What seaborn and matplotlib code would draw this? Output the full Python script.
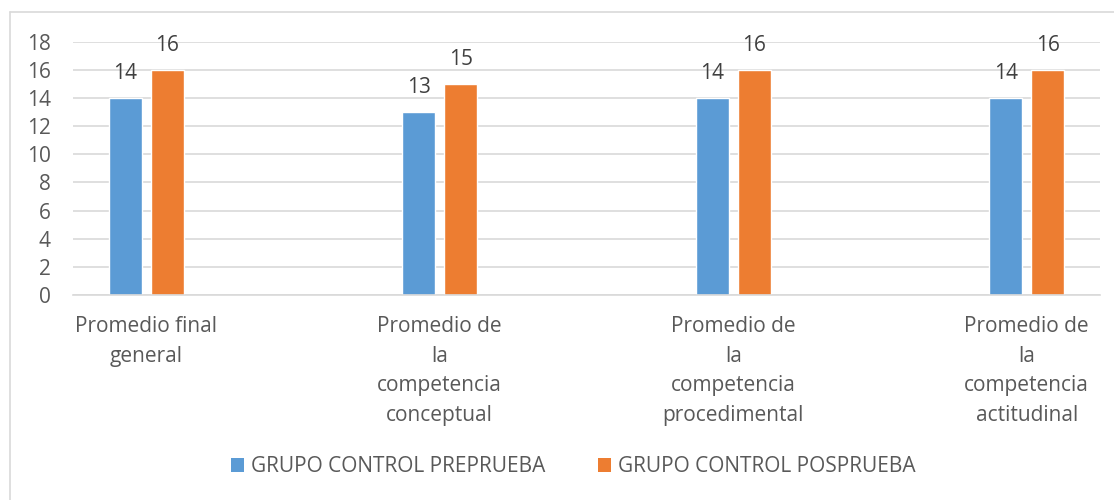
import matplotlib
matplotlib.use("Agg")
import matplotlib.pyplot as plt
import seaborn as sns
import pandas as pd
from matplotlib.lines import Line2D
from matplotlib.patches import Patch

categories = [
    "Promedio final\ngeneral",
    "Promedio de\nla\ncompetencia\nconceptual",
    "Promedio de\nla\ncompetencia\nprocedimental",
    "Promedio de\nla\ncompetencia\nactitudinal",
]
series_names = ["GRUPO CONTROL PREPRUEBA", "GRUPO CONTROL POSPRUEBA"]
pre_values = [14, 13, 14, 14]
post_values = [16, 15, 16, 16]
y_ticks = [0, 2, 4, 6, 8, 10, 12, 14, 16, 18]
colors = ["#5B9BD5", "#ED7D31"]

df = pd.DataFrame({
    "cat": categories * 2,
    "serie": [series_names[0]] * 4 + [series_names[1]] * 4,
    "valor": pre_values + post_values,
})

sns.set_theme(style="white")
plt.rcParams["font.family"] = ["Open Sans", "DejaVu Sans"]
text_color = "#595959"

fig = plt.figure(figsize=(11.14, 5.0), dpi=100)
ax = fig.add_axes([73 / 1114, 1 - 295 / 500, (1100 - 73) / 1114, (295 - 41.7) / 500])

sns.barplot(data=df, x="cat", y="valor", hue="serie", order=categories,
            hue_order=series_names, palette=colors, width=0.285, gap=0.21,
            saturation=1, legend=False, ax=ax, errorbar=None)

for cont in ax.containers:
    ax.bar_label(cont, fmt="%d", padding=10, fontsize=15, color="#404040")

ax.set_xlim(-0.25, 3.25)
ax.set_ylim(0, 18)
ax.set_yticks(y_ticks)
ax.yaxis.grid(True, color="#d9d9d9", linewidth=1.2)
ax.set_axisbelow(True)
for s in ["top", "right", "left"]:
    ax.spines[s].set_visible(False)
ax.spines["bottom"].set_color("#d9d9d9")
ax.spines["bottom"].set_linewidth(1.2)
ax.set_xlabel("")
ax.set_ylabel("")
ax.tick_params(axis="y", length=0, pad=16, labelsize=15, labelcolor=text_color)
ax.tick_params(axis="x", length=0, pad=15, labelsize=15, labelcolor=text_color)
for lab in ax.get_xticklabels():
    lab.set_linespacing(1.55)
    lab.set_ha("center")

handles = [Patch(facecolor=c, edgecolor="none") for c in colors]
fig.legend(handles, series_names, loc="center", bbox_to_anchor=(573.5 / 1114, 1 - 467 / 500),
           ncol=2, frameon=False, fontsize=15, labelcolor=text_color,
           handlelength=0.63, handleheight=0.63, handletextpad=0.34, columnspacing=2.5,
           borderpad=0, borderaxespad=0)

# outer chart border (left and top visible)
fig.add_artist(Line2D([10 / 1114, 10 / 1114], [0, 1 - 12 / 500], transform=fig.transFigure,
                      color="#d9d9d9", linewidth=1.2))
fig.add_artist(Line2D([10 / 1114, 1], [1 - 12 / 500, 1 - 12 / 500], transform=fig.transFigure,
                      color="#d9d9d9", linewidth=1.2))

fig.savefig("out.png", dpi=100)
